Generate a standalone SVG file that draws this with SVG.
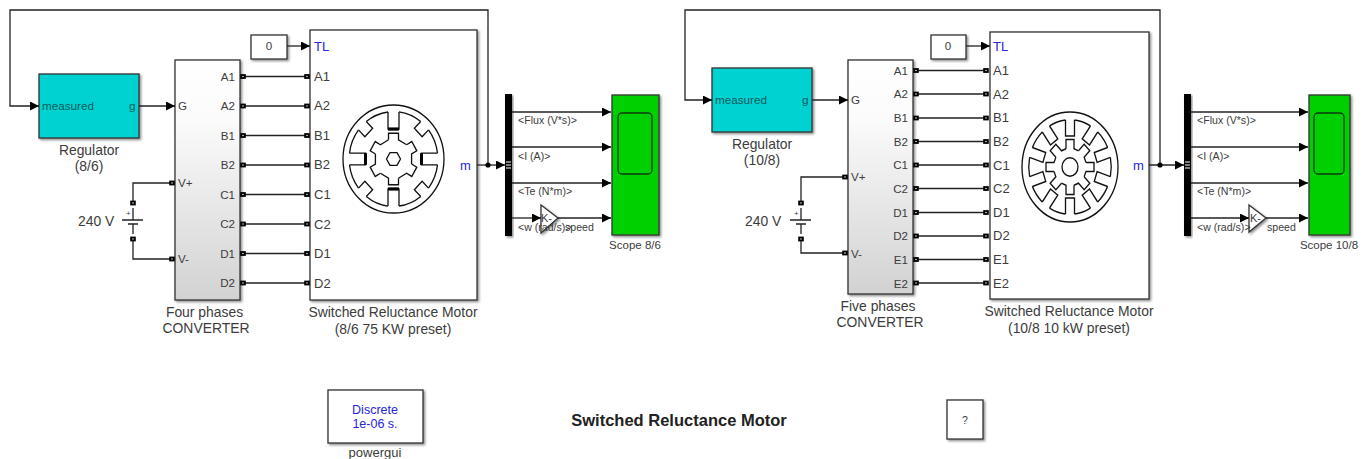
<svg xmlns="http://www.w3.org/2000/svg" xmlns:xlink="http://www.w3.org/1999/xlink" width="1363" height="459" viewBox="0 0 1363 459">
<style>
text{font-family:"Liberation Sans",Arial,sans-serif;fill:#3c3c3c}
.lb{font-size:13.9px;text-anchor:middle}
.cp{font-size:11.6px}
.cr{font-size:11.6px;text-anchor:end}
.mp{font-size:13px}
.sg{font-size:10.6px}
.bl{fill:#2525dd}
.blk{fill:#fff;stroke:#333;stroke-width:1.3;filter:url(#sh)}
.w{fill:none;stroke:#222;stroke-width:1.3}
.a{fill:none;stroke:#222;stroke-width:1.3;marker-end:url(#ar)}
.ic{fill:none;stroke:#111;stroke-width:1.3}
.icb{fill:none;stroke:#000;stroke-width:3}
</style>
<defs>
<filter id="sh" x="-10%" y="-10%" width="125%" height="125%"><feDropShadow dx="1.5" dy="1.5" stdDeviation="1" flood-color="#000" flood-opacity=".45"/></filter>
<linearGradient id="cg" x1="0" y1="0" x2="0" y2="1"><stop offset="0" stop-color="#fff"/><stop offset=".25" stop-color="#fbfbfb"/><stop offset="1" stop-color="#d2d2d2"/></linearGradient>
<marker id="ar" markerUnits="userSpaceOnUse" markerWidth="10" markerHeight="10" refX="9" refY="4.5" orient="auto"><path d="M0,0L9,4.5L0,9z" fill="#000"/></marker>
<g id="port"><rect x="-2.8" y="-2.4" width="5.6" height="4.8" fill="#000"/><rect x="-.8" y="-.6" width="1.6" height="1.2" fill="#ccc"/></g>
<g id="p8a"><path class="ic" d="M-5.5,-44V-28H5.5V-44"/><path class="icb" d="M-5.5,-28H5.5"/><path class="ic" d="M5.5,-44A44.3,44.3 0 0 1 27.2,-35"/></g>
<g id="p8b"><path class="ic" d="M-5.5,-44V-35H5.5V-44"/><path class="ic" d="M5.5,-44A44.3,44.3 0 0 1 27.2,-35"/></g>
<path id="r6" class="ic" d="M-5,-18V-24H5V-18L13.1,-13.3"/>
<g id="p10"><path class="ic" d="M-4.5,-41V-27H4.5V-41"/><path class="ic" d="M4.5,-41A41.25,41.25 0 0 1 20.5,-35.8"/></g>
<path id="r8" class="ic" d="M-4,-16V-24H4V-16L8.5,-14.1"/>
</defs>
<rect width="1363" height="459" fill="#fff"/>

<g id="regulator-8-6">
<rect class="blk" x="39" y="74" width="100" height="64" style="fill:#00d2d2"/>
<text x="42" y="110" style="font-size:11.7px;fill:#0a5a5a">measured</text>
<text x="129" y="110" style="font-size:11.7px;fill:#0a5a5a">g</text>
<text class="lb" x="89" y="155">Regulator</text><text class="lb" x="89" y="171">(8/6)</text>
</g>
<g id="converter-4">
<rect class="blk" x="175" y="60" width="65" height="240" style="fill:url(#cg)"/>
<text class="cp" x="178" y="110">G</text><text class="cp" x="178" y="187">V+</text><text class="cp" x="178" y="263">V-</text>
<text class="cr" x="235" y="81">A1</text><text class="cr" x="235" y="110">A2</text><text class="cr" x="235" y="140">B1</text><text class="cr" x="235" y="169">B2</text><text class="cr" x="235" y="199">C1</text><text class="cr" x="235" y="228">C2</text><text class="cr" x="235" y="258">D1</text><text class="cr" x="235" y="287">D2</text>
<text class="lb" x="204.500" y="317">Four phases</text><text class="lb" x="206" y="333">CONVERTER</text>
</g>
<g id="constant-left"><rect class="blk" x="251" y="35" width="36" height="24"/><text x="269" y="50" text-anchor="middle" style="font-size:11.6px">0</text></g>
<g id="motor-8-6">
<rect class="blk" x="310" y="30" width="167" height="270"/>
<text class="mp bl" x="314" y="51">TL</text>
<text class="mp" x="314" y="81">A1</text><text class="mp" x="314" y="110">A2</text><text class="mp" x="314" y="140">B1</text><text class="mp" x="314" y="169">B2</text><text class="mp" x="314" y="199">C1</text><text class="mp" x="314" y="229">C2</text><text class="mp" x="314" y="258">D1</text><text class="mp" x="314" y="288">D2</text>
<text class="mp bl" x="460" y="170">m</text>
<g transform="translate(393.500,159) scale(1,1.07)">
<circle class="ic" r="50.500"/><path class="ic" d="M-3.500,-6H3.500L7,0L3.500,6H-3.500L-7,0z"/>
<use xlink:href="#p8a"/><use xlink:href="#p8b" transform="rotate(45)"/><use xlink:href="#p8a" transform="rotate(90)"/><use xlink:href="#p8b" transform="rotate(135)"/><use xlink:href="#p8a" transform="rotate(180)"/><use xlink:href="#p8b" transform="rotate(225)"/><use xlink:href="#p8a" transform="rotate(270)"/><use xlink:href="#p8b" transform="rotate(315)"/>
<use xlink:href="#r6"/><use xlink:href="#r6" transform="rotate(60)"/><use xlink:href="#r6" transform="rotate(120)"/><use xlink:href="#r6" transform="rotate(180)"/><use xlink:href="#r6" transform="rotate(240)"/><use xlink:href="#r6" transform="rotate(300)"/>
</g>
<text class="lb" x="393" y="317">Switched Reluctance Motor</text><text class="lb" x="393" y="334">(8/6 75 KW preset)</text>
</g>
<g id="battery-left">
<path class="w" d="M122,220H143M128,224H138M133,208V220M133,224V234"/>
<text x="126" y="216" style="font-size:8px">+</text>
<text x="78" y="226" style="font-size:13.9px">240 V</text>
</g>
<g id="demux-left"><rect x="505" y="94" width="7" height="142" fill="#000" filter="url(#sh)"/><path d="M506,162h5M506,165h5M506,168h5" stroke="#fff" stroke-width="1.2"/></g>
<g id="gain-left"><path class="blk" d="M541,205L558,218L541,233z"/><text x="541" y="222" style="font-size:11px">K-</text></g>
<g id="scope-8-6">
<rect class="blk" x="612" y="95" width="47" height="140" style="fill:#00d000"/>
<rect x="618" y="113" width="34" height="61" rx="4" fill="none" stroke="#0b3a0b" stroke-width="1.3"/>
<text x="635" y="249" text-anchor="middle" style="font-size:11.5px">Scope 8/6</text>
</g>

<g id="regulator-10-8">
<rect class="blk" x="712" y="68" width="100" height="64" style="fill:#00d2d2"/>
<text x="715" y="104" style="font-size:11.7px;fill:#0a5a5a">measured</text>
<text x="802" y="104" style="font-size:11.7px;fill:#0a5a5a">g</text>
<text class="lb" x="762" y="149">Regulator</text><text class="lb" x="762" y="165">(10/8)</text>
</g>
<g id="converter-5">
<rect class="blk" x="848" y="60" width="65" height="234" style="fill:url(#cg)"/>
<text class="cp" x="851" y="104">G</text><text class="cp" x="851" y="181">V+</text><text class="cp" x="851" y="258">V-</text>
<text class="cr" x="908" y="75">A1</text><text class="cr" x="908" y="98">A2</text><text class="cr" x="908" y="122">B1</text><text class="cr" x="908" y="146">B2</text><text class="cr" x="908" y="169">C1</text><text class="cr" x="908" y="193">C2</text><text class="cr" x="908" y="217">D1</text><text class="cr" x="908" y="240">D2</text><text class="cr" x="908" y="264">E1</text><text class="cr" x="908" y="288">E2</text>
<text class="lb" x="878" y="311">Five phases</text><text class="lb" x="880" y="327">CONVERTER</text>
</g>
<g id="constant-right"><rect class="blk" x="931" y="35" width="35" height="24"/><text x="948" y="50" text-anchor="middle" style="font-size:11.6px">0</text></g>
<g id="motor-10-8">
<rect class="blk" x="990" y="32" width="159" height="267"/>
<text class="mp bl" x="993" y="51">TL</text>
<text class="mp" x="993" y="75">A1</text><text class="mp" x="993" y="99">A2</text><text class="mp" x="993" y="122">B1</text><text class="mp" x="993" y="146">B2</text><text class="mp" x="993" y="170">C1</text><text class="mp" x="993" y="193">C2</text><text class="mp" x="993" y="217">D1</text><text class="mp" x="993" y="240">D2</text><text class="mp" x="993" y="264">E1</text><text class="mp" x="993" y="288">E2</text>
<text class="mp bl" x="1133" y="170">m</text>
<g transform="translate(1070,167) scale(1,1.146)">
<circle class="ic" r="48"/><circle class="ic" r="8"/>
<use xlink:href="#p10"/><use xlink:href="#p10" transform="rotate(36)"/><use xlink:href="#p10" transform="rotate(72)"/><use xlink:href="#p10" transform="rotate(108)"/><use xlink:href="#p10" transform="rotate(144)"/><use xlink:href="#p10" transform="rotate(180)"/><use xlink:href="#p10" transform="rotate(216)"/><use xlink:href="#p10" transform="rotate(252)"/><use xlink:href="#p10" transform="rotate(288)"/><use xlink:href="#p10" transform="rotate(324)"/>
<use xlink:href="#r8"/><use xlink:href="#r8" transform="rotate(45)"/><use xlink:href="#r8" transform="rotate(90)"/><use xlink:href="#r8" transform="rotate(135)"/><use xlink:href="#r8" transform="rotate(180)"/><use xlink:href="#r8" transform="rotate(225)"/><use xlink:href="#r8" transform="rotate(270)"/><use xlink:href="#r8" transform="rotate(315)"/>
</g>
<text class="lb" x="1069" y="316">Switched Reluctance Motor</text><text class="lb" x="1069" y="333">(10/8 10 kW preset)</text>
</g>
<g id="battery-right">
<path class="w" d="M790,220H811M796,224H806M801,208V220M801,224V234"/>
<text x="794" y="216" style="font-size:8px">+</text>
<text x="745" y="226" style="font-size:13.9px">240 V</text>
</g>
<g id="demux-right"><rect x="1184" y="94" width="7" height="142" fill="#000" filter="url(#sh)"/><path d="M1185,162h5M1185,165h5M1185,168h5" stroke="#fff" stroke-width="1.2"/></g>
<g id="gain-right"><path class="blk" d="M1249,205L1266,218L1249,232z"/><text x="1250" y="222" style="font-size:11px">K-</text></g>
<g id="scope-10-8">
<rect class="blk" x="1309" y="95" width="41" height="140" style="fill:#00d000"/>
<rect x="1314" y="113" width="30" height="61" rx="4" fill="none" stroke="#0b3a0b" stroke-width="1.3"/>
<text x="1329" y="249" text-anchor="middle" style="font-size:11.5px">Scope 10/8</text>
</g>

<g id="powergui"><rect class="blk" x="328" y="390" width="95" height="53"/>
<text class="bl" x="375" y="414" text-anchor="middle" style="font-size:12.5px">Discrete</text><text class="bl" x="375" y="428" text-anchor="middle" style="font-size:12.5px">1e-06 s.</text>
<text x="375" y="457" text-anchor="middle" style="font-size:13px">powergui</text></g>
<g id="title"><text x="679" y="426" text-anchor="middle" style="font-size:16.5px;font-weight:bold;fill:#222">Switched Reluctance Motor</text></g>
<g id="help"><rect class="blk" x="947" y="400" width="36" height="39"/><text x="965" y="424" text-anchor="middle" style="font-size:10.5px">?</text></g>

<g id="connectors">
<path class="a" d="M488,165V10H10V106H39"/>
<path class="a" d="M139,106H175"/>
<path class="a" d="M287,46H310"/>
<path class="w" d="M172,183H133V203M133,239V259H172"/>
<path class="w" d="M242,76.500H308M242,106H308M242,135.500H308M242,165H308M242,194.500H308M242,224H308M242,253.500H308M242,283H308"/>
<path class="a" d="M477,165H505"/>
<circle cx="488" cy="165" r="2.600" fill="#000"/>
<path class="a" d="M512,112H611"/><path class="a" d="M512,147H611"/><path class="a" d="M512,183H611"/><path class="a" d="M512,218H541"/><path class="a" d="M558,218H611"/>
<use xlink:href="#port" x="243" y="76.500"/><use xlink:href="#port" x="243" y="106"/><use xlink:href="#port" x="243" y="135.500"/><use xlink:href="#port" x="243" y="165"/><use xlink:href="#port" x="243" y="194.500"/><use xlink:href="#port" x="243" y="224"/><use xlink:href="#port" x="243" y="253.500"/><use xlink:href="#port" x="243" y="283"/>
<use xlink:href="#port" x="307" y="76.500"/><use xlink:href="#port" x="307" y="106"/><use xlink:href="#port" x="307" y="135.500"/><use xlink:href="#port" x="307" y="165"/><use xlink:href="#port" x="307" y="194.500"/><use xlink:href="#port" x="307" y="224"/><use xlink:href="#port" x="307" y="253.500"/><use xlink:href="#port" x="307" y="283"/>
<use xlink:href="#port" x="172" y="183"/><use xlink:href="#port" x="172" y="259"/><use xlink:href="#port" x="133" y="203"/><use xlink:href="#port" x="133" y="239"/>
<text class="sg" x="518" y="124">&lt;Flux (V*s)&gt;</text><text class="sg" x="518" y="160">&lt;I (A)&gt;</text><text class="sg" x="518" y="195">&lt;Te (N*m)&gt;</text><text class="sg" x="518" y="231">&lt;w (rad/s)&gt;</text><text class="sg" x="565" y="231">speed</text>

<path class="a" d="M1160,165V10H685V100H712"/>
<path class="a" d="M812,100H848"/>
<path class="a" d="M966,46H990"/>
<path class="w" d="M845,177H801V203M801,239V253H845"/>
<path class="w" d="M915,70.500H987M915,94H987M915,118H987M915,141.500H987M915,165H987M915,188.500H987M915,212.500H987M915,236H987M915,259.500H987M915,283H987"/>
<path class="a" d="M1149,165H1184"/>
<circle cx="1160" cy="165" r="2.600" fill="#000"/>
<path class="a" d="M1191,112H1308"/><path class="a" d="M1191,147H1308"/><path class="a" d="M1191,183H1308"/><path class="a" d="M1191,218H1249"/><path class="a" d="M1266,218H1308"/>
<use xlink:href="#port" x="916" y="70.500"/><use xlink:href="#port" x="916" y="94"/><use xlink:href="#port" x="916" y="118"/><use xlink:href="#port" x="916" y="141.500"/><use xlink:href="#port" x="916" y="165"/><use xlink:href="#port" x="916" y="188.500"/><use xlink:href="#port" x="916" y="212.500"/><use xlink:href="#port" x="916" y="236"/><use xlink:href="#port" x="916" y="259.500"/><use xlink:href="#port" x="916" y="283"/>
<use xlink:href="#port" x="986" y="70.500"/><use xlink:href="#port" x="986" y="94"/><use xlink:href="#port" x="986" y="118"/><use xlink:href="#port" x="986" y="141.500"/><use xlink:href="#port" x="986" y="165"/><use xlink:href="#port" x="986" y="188.500"/><use xlink:href="#port" x="986" y="212.500"/><use xlink:href="#port" x="986" y="236"/><use xlink:href="#port" x="986" y="259.500"/><use xlink:href="#port" x="986" y="283"/>
<use xlink:href="#port" x="845" y="177"/><use xlink:href="#port" x="845" y="253"/><use xlink:href="#port" x="801" y="203"/><use xlink:href="#port" x="801" y="239"/>
<text class="sg" x="1197" y="124">&lt;Flux (V*s)&gt;</text><text class="sg" x="1197" y="160">&lt;I (A)&gt;</text><text class="sg" x="1197" y="195">&lt;Te (N*m)&gt;</text><text class="sg" x="1197" y="231">&lt;w (rad/s)&gt;</text><text class="sg" x="1267" y="231">speed</text>
</g>
</svg>
